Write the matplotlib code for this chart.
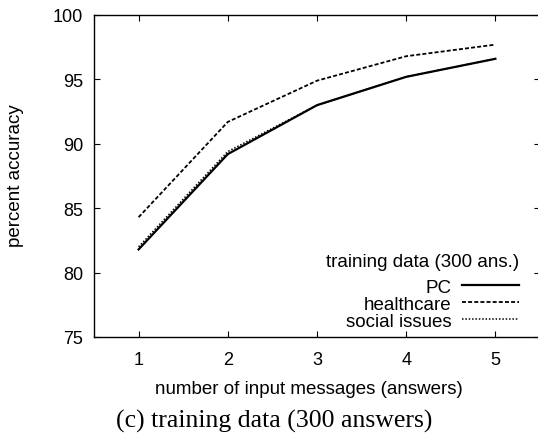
import matplotlib
matplotlib.use("Agg")
import matplotlib.pyplot as plt

messages = [1, 2, 3, 4, 5]
pc = [81.8, 89.2, 93.0, 95.2, 96.6]
healthcare = [84.3, 91.7, 94.9, 96.8, 97.7]
social_issues = [82.0, 89.4, 93.0, 95.2, 96.6]

plt.rcParams['font.family'] = ['Liberation Sans', 'DejaVu Sans']

fig = plt.figure(figsize=(5.38, 4.35), dpi=100)
ax = fig.add_axes([94 / 538, 97 / 435, 446 / 538, 322 / 435])

ax.plot(messages, pc, color='black', lw=1.6, label='PC')
ax.plot(messages, healthcare, color='black', lw=1.3, linestyle=(0, (2.2, 1.2)), label='healthcare')
ax.plot(messages, social_issues, color='black', lw=1.1, linestyle=(0, (1, 1.2)), label='social issues')

ax.set_xlim(0.5, 5.5)
ax.set_ylim(75, 100)
ax.set_xticks(messages)
ax.set_yticks([75, 80, 85, 90, 95, 100])
ax.tick_params(direction='in', length=4.5, width=0.8, top=True, right=True, labelsize=13, pad=10)
ax.tick_params(axis='y', pad=8)
for s in ax.spines.values():
    s.set_linewidth(1.0)

ax.set_xlabel('number of input messages (answers)', fontsize=13.5)
ax.xaxis.set_label_coords(0.481, -0.135)
ax.set_ylabel('percent accuracy', fontsize=13.5)
ax.yaxis.set_label_coords(-0.158, 0.505)

leg = ax.legend(loc='lower right', bbox_to_anchor=(0.99, -0.03), frameon=False, markerfirst=False,
                title='training data (300 ans.)', title_fontsize=13.5, fontsize=13.5,
                alignment='right', handlelength=3.0, labelspacing=0.0, handletextpad=0.6)
leg._legend_box.sep = 6

fig.text(0.51, 0.005, '(c) training data (300 answers)', ha='center', va='bottom',
         fontsize=18.5, family='Liberation Serif')

fig.savefig('out.png', dpi=100)
